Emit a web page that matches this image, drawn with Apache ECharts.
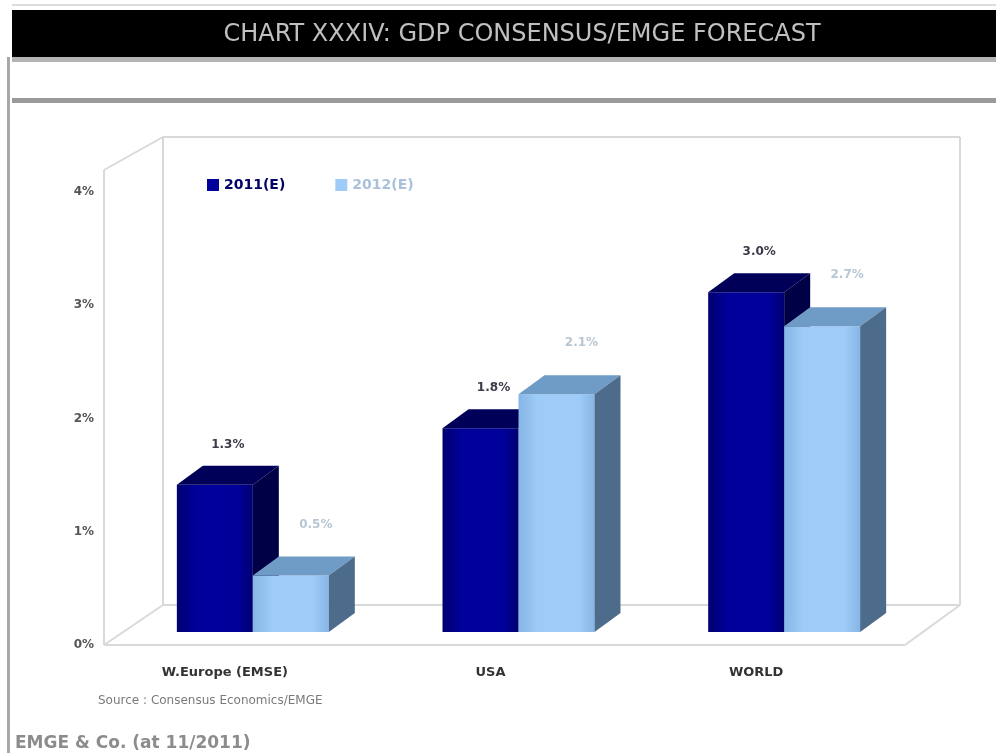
<!DOCTYPE html>
<html>
<head>
<meta charset="utf-8">
<script src="https://cdn.jsdelivr.net/npm/echarts@6/dist/echarts.min.js"></script>
<style>
  html, body { margin: 0; padding: 0; background: #ffffff; }
  #chart { width: 996px; height: 753px; }
</style>
</head>
<body>
<div id="chart"></div>
<script>
// GDP growth forecasts by region
const categories = ['W.Europe (EMSE)', 'USA', 'WORLD'];
const seriesNames = ['2011(E)', '2012(E)'];
const growth2011 = [1.3, 1.8, 3.0];
const growth2012 = [0.5, 2.1, 2.7];
const yTicks = [0, 1, 2, 3, 4];

// face colours for the pseudo-3D boxes: front, top, side
const palettes = [
  { front: '#00009a', frontDark: '#000070', top: '#000058', side: '#000046', label: '#3a3a4a', legend: '#000066' },
  { front: '#9ecbf7', frontDark: '#86b6e6', top: '#6f9cc6', side: '#4d6b8a', label: '#b8c6d4', legend: '#a9c2da' }
];

const DX = 26, DY = -19, LIFT = 13;

function renderBox(params, api) {
  const s = params.seriesIndex;
  const pal = palettes[s];
  const idx = api.value(0);
  const v = api.value(1);
  const base = api.coord([idx, 0]);
  const top = api.coord([idx, v]);
  const bw = api.size([1, 0])[0];
  const w = bw * 0.286;
  const x0 = s === 0 ? base[0] - w : base[0];
  const x1 = x0 + w;
  const yb = base[1] - LIFT;
  const yt = top[1] - LIFT;
  return {
    type: 'group',
    children: [
      { type: 'rect', shape: { x: x0, y: yt, width: w, height: yb - yt },
        style: { fill: new echarts.graphic.LinearGradient(0, 0, 1, 0, [
          { offset: 0, color: pal.frontDark }, { offset: 0.25, color: pal.front },
          { offset: 0.8, color: pal.front }, { offset: 1, color: pal.frontDark }]) } },
      { type: 'polygon', shape: { points: [[x0, yt], [x1, yt], [x1 + DX, yt + DY], [x0 + DX, yt + DY]] },
        style: { fill: pal.top } },
      { type: 'polygon', shape: { points: [[x1, yt], [x1 + DX, yt + DY], [x1 + DX, yb + DY], [x1, yb]] },
        style: { fill: pal.side } },
      { type: 'text',
        style: { text: v.toFixed(1) + '%', x: x0 + w / 2 + DX / 2 + (s ? 12 : 0), y: yt + DY - (s ? 32 : 21),
          align: 'center', verticalAlign: 'middle', fill: pal.label,
          font: 'bold 12px "DejaVu Sans", sans-serif' } }
    ]
  };
}

const wall = '#d9d9d9';
function line(x1, y1, x2, y2, color, width) {
  return { type: 'line', shape: { x1, y1, x2, y2 }, style: { stroke: color || wall, lineWidth: width || 2 }, silent: true, z: -1 };
}

const chart = echarts.init(document.getElementById('chart'), null, { renderer: 'canvas' });
chart.setOption({
  backgroundColor: '#ffffff',
  animation: false,
  graphic: [
    // header band
    { type: 'rect', shape: { x: 12, y: 4, width: 984, height: 2 }, style: { fill: '#dcdcdc' } },
    { type: 'rect', shape: { x: 12, y: 10, width: 984, height: 47 }, style: { fill: '#000000' } },
    { type: 'text', style: { text: 'CHART XXXIV: GDP CONSENSUS/EMGE FORECAST', x: 522, y: 35,
        align: 'center', verticalAlign: 'middle', fill: '#c0c0c0', font: '24px "DejaVu Sans", sans-serif' } },
    { type: 'rect', shape: { x: 12, y: 57, width: 984, height: 5 }, style: { fill: '#b4b4b4' } },
    { type: 'rect', shape: { x: 12, y: 98, width: 984, height: 5 }, style: { fill: '#9a9a9a' } },
    { type: 'rect', shape: { x: 7, y: 57, width: 3, height: 696 }, style: { fill: '#a8a8a8' } },
    // plot box walls and floor
    line(104, 170, 104, 645),
    line(163, 137, 163, 605),
    line(104, 170, 163, 137),
    line(104, 645, 163, 605),
    line(163, 137, 960, 137),
    line(960, 137, 960, 605),
    line(163, 605, 960, 605),
    line(104, 645, 905, 645),
    line(905, 645, 960, 605),
    // notes
    { type: 'text', style: { text: 'Source : Consensus Economics/EMGE', x: 98, y: 701,
        verticalAlign: 'middle', fill: '#7a7a7a', font: '12px "DejaVu Sans", sans-serif' } },
    { type: 'text', style: { text: 'EMGE & Co. (at 11/2011)', x: 15, y: 744,
        verticalAlign: 'middle', fill: '#8c8c8c', font: 'bold 17px "DejaVu Sans", sans-serif' } }
  ],
  legend: {
    left: 202, top: 173,
    itemGap: 50, itemWidth: 12, itemHeight: 12, icon: 'rect',
    data: [
      { name: seriesNames[0], itemStyle: { color: palettes[0].front }, textStyle: { color: palettes[0].legend } },
      { name: seriesNames[1], itemStyle: { color: palettes[1].front }, textStyle: { color: palettes[1].legend } }
    ],
    textStyle: { fontWeight: 'bold', fontSize: 14, fontFamily: 'DejaVu Sans' }
  },
  grid: { left: 120, right: 79, top: 192, bottom: 108 },
  xAxis: {
    type: 'category',
    data: categories,
    axisLine: { show: false }, axisTick: { show: false },
    axisLabel: { margin: 21, padding: [0, 56, 0, 0], color: '#333', fontWeight: 'bold', fontSize: 13, fontFamily: 'DejaVu Sans' }
  },
  yAxis: {
    type: 'value', min: yTicks[0], max: yTicks[yTicks.length - 1], interval: 1,
    axisLine: { show: false }, axisTick: { show: false }, splitLine: { show: false },
    axisLabel: { margin: 26, color: '#555', fontWeight: 'bold', fontSize: 12, fontFamily: 'DejaVu Sans', formatter: '{value}%' }
  },
  series: [
    { name: seriesNames[0], type: 'custom', renderItem: renderBox, itemStyle: { color: palettes[0].front },
      data: growth2011.map((v, i) => [i, v]), encode: { x: 0, y: 1 } },
    { name: seriesNames[1], type: 'custom', renderItem: renderBox, itemStyle: { color: palettes[1].front },
      data: growth2012.map((v, i) => [i, v]), encode: { x: 0, y: 1 } }
  ]
});
</script>
</body>
</html>
